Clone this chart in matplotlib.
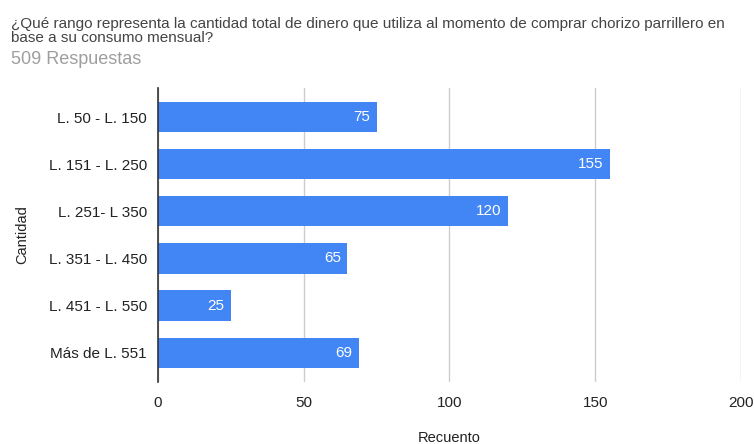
import matplotlib
matplotlib.use("Agg")
import matplotlib.pyplot as plt

plt.rcParams['font.family'] = ['Liberation Sans', 'DejaVu Sans']

# Datos de la encuesta
rangos = ['L. 50 - L. 150', 'L. 151 - L. 250', 'L. 251- L 350',
          'L. 351 - L. 450', 'L. 451 - L. 550', 'Más de L. 551']
recuento = [75, 155, 120, 65, 25, 69]
ticks_x = [0, 50, 100, 150, 200]

fig = plt.figure(figsize=(7.54, 4.44), dpi=100)
ax = fig.add_axes([0.2095, 0.140, 0.7732, 0.662])

pos = list(range(len(rangos)))
ax.barh(pos, recuento, height=0.64, color='#4285F4', zorder=3)

for y, v in zip(pos, recuento):
    ax.text(v - 2.2, y, str(v), color='white', fontsize=11,
            ha='right', va='center', zorder=4)

ax.set_xlim(0, 200)
ax.set_ylim(5.62, -0.62)
ax.set_xticks(ticks_x)
ax.set_yticks(pos)
ax.set_yticklabels(rangos)
ax.tick_params(axis='both', length=0, labelsize=11, labelcolor='#222222')
ax.tick_params(axis='y', pad=8)
ax.tick_params(axis='x', pad=10)

ax.grid(axis='x', color='#cccccc', linewidth=1, zorder=0)
for s in ['top', 'right', 'bottom']:
    ax.spines[s].set_visible(False)
ax.spines['left'].set_color('#333333')
ax.spines['left'].set_linewidth(1.2)
ax.spines['left'].set_zorder(5)

ax.set_xlabel('Recuento', fontsize=10.5, color='#222222', labelpad=15)
ax.set_ylabel('Cantidad', fontsize=10.5, color='#222222', labelpad=14)

fig.text(0.014, 0.962, '¿Qué rango representa la cantidad total de dinero que utiliza al momento de comprar chorizo parrillero en\nbase a su consumo mensual?',
         fontsize=11, color='#444444', ha='left', va='top', linespacing=1.0)
fig.text(0.014, 0.865, '509 Respuestas', fontsize=13, color='#9e9e9e',
         ha='left', va='center')

fig.savefig('out.png', dpi=100)
